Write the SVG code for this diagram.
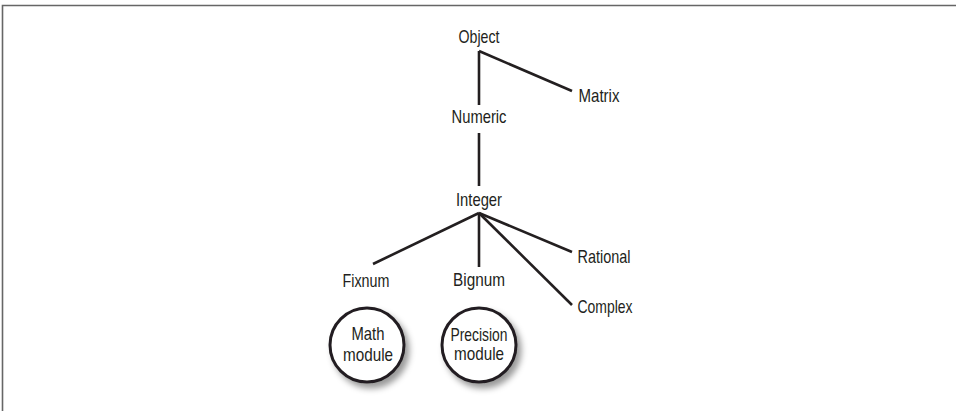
<svg xmlns="http://www.w3.org/2000/svg" width="956" height="411" viewBox="0 0 956 411">
<defs>
<style>
.t{font-family:"Liberation Sans",Arial,sans-serif;font-size:18.5px;fill:#231f20;text-anchor:middle}
.e{stroke:#231f20;stroke-width:2.6;fill:none;stroke-linecap:butt}
.c{fill:#fff;stroke:#231f20;stroke-width:3}
</style>
<filter id="sh" x="-30%" y="-30%" width="170%" height="170%">
<feDropShadow dx="4" dy="5" stdDeviation="3" flood-color="#000" flood-opacity="0.4"/>
</filter>
</defs>
<rect width="956" height="411" fill="#fff"/>
<path d="M2.5,411 V5.5 H956" fill="none" stroke="#666" stroke-width="1.6"/>
<g id="connectors">
<path class="e" d="M479,51 V105"/>
<path class="e" d="M479,51 L572,91"/>
<path class="e" d="M479,133 V186"/>
<path class="e" d="M479,213 L373,264"/>
<path class="e" d="M479,213 V267"/>
<path class="e" d="M479,213 L572,252"/>
<path class="e" d="M479,213 L572,305"/>
</g>
<g id="object"><text class="t" x="479" y="43" textLength="41" lengthAdjust="spacingAndGlyphs">Object</text></g>
<g id="matrix"><text class="t" x="599" y="102" textLength="41" lengthAdjust="spacingAndGlyphs">Matrix</text></g>
<g id="numeric"><text class="t" x="479" y="123" textLength="55" lengthAdjust="spacingAndGlyphs">Numeric</text></g>
<g id="integer"><text class="t" x="479" y="206" textLength="46" lengthAdjust="spacingAndGlyphs">Integer</text></g>
<g id="fixnum"><text class="t" x="366" y="287" textLength="47" lengthAdjust="spacingAndGlyphs">Fixnum</text></g>
<g id="bignum"><text class="t" x="479" y="286" textLength="52" lengthAdjust="spacingAndGlyphs">Bignum</text></g>
<g id="rational"><text class="t" x="604" y="263" textLength="53" lengthAdjust="spacingAndGlyphs">Rational</text></g>
<g id="complex"><text class="t" x="605" y="313" textLength="55" lengthAdjust="spacingAndGlyphs">Complex</text></g>
<g id="math-module">
<circle class="c" cx="367" cy="345" r="37" filter="url(#sh)"/>
<text class="t" x="368" y="340" textLength="33" lengthAdjust="spacingAndGlyphs">Math</text>
<text class="t" x="368" y="361" textLength="50" lengthAdjust="spacingAndGlyphs">module</text>
</g>
<g id="precision-module">
<circle class="c" cx="479" cy="345" r="37" filter="url(#sh)"/>
<text class="t" x="479" y="341" textLength="57" lengthAdjust="spacingAndGlyphs">Precision</text>
<text class="t" x="479" y="360" textLength="50" lengthAdjust="spacingAndGlyphs">module</text>
</g>
</svg>
